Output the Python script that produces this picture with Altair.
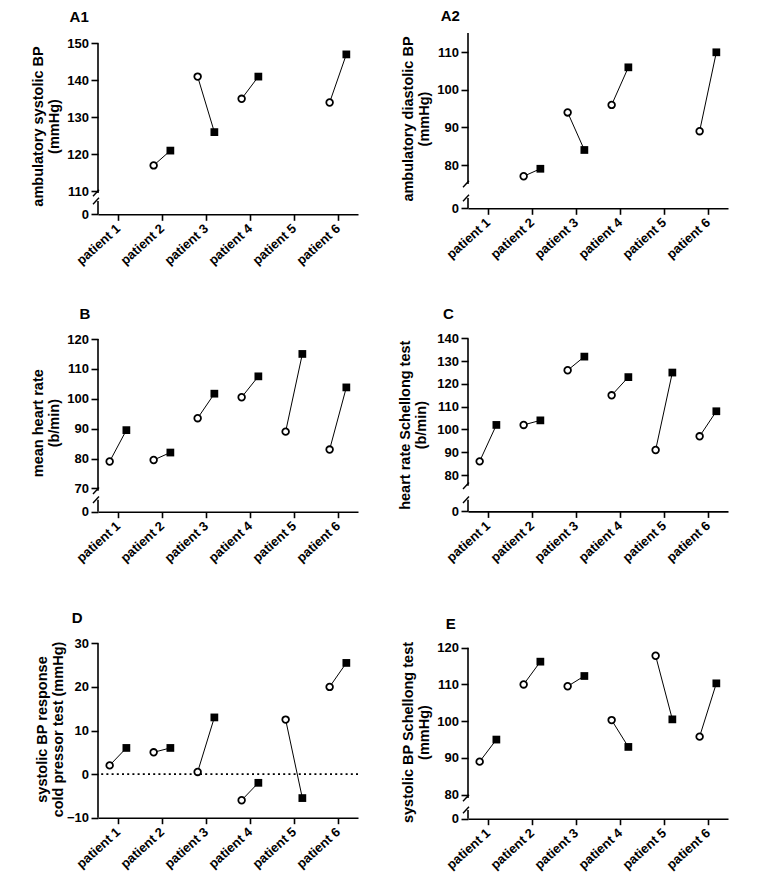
import altair as alt
import pandas as pd

FONT = "Liberation Sans"

patients = ["patient 1", "patient 2", "patient 3", "patient 4", "patient 5", "patient 6"]

a1_first = [None, 117, 141, 135, None, 134]
a1_second = [None, 121, 126, 141, None, 147]
a2_first = [None, 77, 94, 96, None, 89]
a2_second = [None, 79, 84, 106, None, 110]
b_first = [79, 79.5, 93.5, 100.5, 89, 83]
b_second = [89.5, 82, 101.7, 107.5, 115, 103.8]
c_first = [86, 102, 126, 115, 91, 97]
c_second = [102, 104, 132, 123, 125, 108]
d_first = [2, 5, 0.5, -6, 12.5, 20]
d_second = [6, 6, 13, -2, -5.5, 25.5]
e_first = [89, 110, 109.5, 100.3, 117.8, 95.8]
e_second = [95, 116.2, 112.3, 93, 100.5, 110.3]

a1_ticks = [110, 120, 130, 140, 150]
a2_ticks = [80, 90, 100, 110]
b_ticks = [70, 80, 90, 100, 110, 120]
c_ticks = [80, 90, 100, 110, 120, 130, 140]
d_ticks = [-10, 0, 10, 20, 30]
e_ticks = [80, 90, 100, 110, 120]

WIDTH = 260
XDOMAIN = [0.545, 6.455]
TITLE_SHIFT = 14.5
LINE_H = 16


def panel(label, ytitle, first, second, ticks, ppu, top_off, height,
          upper_end=None, lower_start=None, axis_to_top=False, zero_line=False,
          title_x=-35, title_y=90, lab_dx=-28, lab_dy=-10):
    top = ticks[-1]
    dhi = top + top_off / ppu
    dlo = top - (height - top_off) / ppu

    def val(px):
        return top - (px - top_off) / ppu

    rows = []
    for i, p in enumerate(patients):
        for phase, arr in (("first", first), ("second", second)):
            if arr[i] is not None:
                rows.append({"patient": p, "idx": i + 1, "phase": phase, "value": arr[i]})
    df = pd.DataFrame(rows)

    yscale = alt.Scale(domain=[dlo, dhi], nice=False, zero=False)
    xscale = alt.Scale(domain=XDOMAIN, nice=False, zero=False)

    broken = upper_end is not None
    if broken:
        yvals = [dlo] + ticks
        lab_expr = f"datum.value < {ticks[0] - 2} ? '0' : datum.label"
    else:
        yvals = ticks
        lab_expr = "datum.label"

    xaxis = alt.Axis(
        values=[1, 2, 3, 4, 5, 6], labelExpr="'patient ' + datum.value",
        labelAngle=-42, labelAlign="right", labelBaseline="middle",
        labelOverlap=False, labelFlush=False, labelBound=False,
        labelFontSize=13, tickSize=6, labelPadding=6, title=None, grid=False,
        domainWidth=1.6, tickWidth=1.6)
    yaxis = alt.Axis(
        values=yvals, labelExpr=lab_expr, domain=False, tickSize=7,
        labelOverlap=False, labelFlush=False, labelBound=False,
        labelFontSize=13, labelPadding=2.5, title=ytitle,
        titleX=title_x - LINE_H, titleY=title_y,
        titleAngle=270, titleBaseline="bottom", titleAlign="center",
        titleLineHeight=LINE_H, grid=False, tickWidth=1.6)

    xenc = alt.X("xpos:Q", scale=xscale, axis=xaxis)
    yenc = alt.Y("value:Q", scale=yscale, axis=yaxis)

    def ydat(v):
        return alt.YDatum(v, type="quantitative", scale=yscale, axis=yaxis)

    base = alt.Chart(df).transform_calculate(
        xpos="datum.idx + (datum.phase == 'first' ? -0.19 : 0.19)")

    lines = base.mark_line(color="black", strokeWidth=1).encode(
        x=xenc, y=yenc, detail="patient:N", order="xpos:Q")
    circles = base.transform_filter("datum.phase == 'first'").mark_point(
        shape="circle", filled=True, fill="white", stroke="black",
        strokeWidth=1.8, size=44, opacity=1).encode(x=xenc, y=yenc)
    squares = base.transform_filter("datum.phase == 'second'").mark_point(
        shape="square", filled=True, color="black", size=60, opacity=1).encode(
        x=xenc, y=yenc)

    one = pd.DataFrame({"k": [0]})
    layers = [lines]

    def seg(lo, hi):
        return alt.Chart(one).mark_rule(color="black", strokeWidth=1.6).encode(
            x=alt.value(0), y=ydat(lo), y2=alt.datum(hi))

    def slash(v):
        d = 3.2 / ppu
        return alt.Chart(one).mark_rule(color="black", strokeWidth=1.4).encode(
            x=alt.value(-5), x2=alt.value(1), y=ydat(v - d), y2=alt.datum(v + d))

    if broken:
        up_top = dhi if axis_to_top else top
        up_lo = val(upper_end)
        lo_hi = val(lower_start)
        layers += [seg(up_lo, up_top), seg(dlo, lo_hi), slash(up_lo), slash(lo_hi)]
    else:
        layers += [seg(ticks[0], top)]

    if zero_line:
        layers.append(alt.Chart(one).mark_rule(
            color="black", strokeWidth=1.8, strokeDash=[2, 3.2]).encode(y=ydat(0)))

    layers += [circles, squares]

    return alt.layer(*layers).properties(
        width=WIDTH, height=height,
        title=alt.TitleParams(text=label, anchor="start", frame="group",
                              dx=lab_dx, dy=lab_dy + TITLE_SHIFT, offset=0, fontSize=15,
                              font=FONT, fontWeight="bold", color="black",
                              baseline="alphabetic"))


pA1 = panel("A1", ["ambulatory systolic BP", "(mmHg)"], a1_first, a1_second, a1_ticks,
            3.7, 10.3, 181.3, upper_end=160, lower_start=168,
            title_x=-37, title_y=93, lab_dx=-28.4, lab_dy=-10.3)
pA2 = panel("A2", ["ambulatory diastolic BP", "(mmHg)"], a2_first, a2_second, a2_ticks,
            3.757, 19.3, 175.3, upper_end=151, lower_start=165, axis_to_top=True,
            title_x=-37, title_y=85.5, lab_dx=-27.3, lab_dy=-10.3)
pB = panel("B", ["mean heart rate", "(b/min)"], b_first, b_second, b_ticks,
           2.988, 24, 196.7, upper_end=175.7, lower_start=184.7,
           title_x=-37, title_y=107.7, lab_dx=-18.4, lab_dy=4)
pC = panel("C", ["heart rate Schellong test", "(b/min)"], c_first, c_second, c_ticks,
           2.277, 23.4, 196.4, upper_end=170.7, lower_start=184.7,
           title_x=-40, title_y=109.7, lab_dx=-25, lab_dy=4)
pD = panel("D", ["systolic BP response", "cold pressor test (mmHg)"], d_first, d_second, d_ticks,
           4.36, 31.3, 205.7, zero_line=True,
           title_x=-33, title_y=117, lab_dx=-26.3, lab_dy=11.3)
pE = panel("E", ["systolic BP Schellong test", "(mmHg)"], e_first, e_second, e_ticks,
           3.675, 35.7, 206.7, upper_end=186, lower_start=198,
           title_x=-37, title_y=120, lab_dx=-22.3, lab_dy=17.3)

chart = alt.concat(pA1, pA2, pB, pC, pD, pE, columns=2,
                   spacing={"row": 100, "column": 110},
                   bounds="flush", align="each").properties(
    padding={"left": 21, "top": 0, "right": 5, "bottom": 5},
    background="white",
).configure_axis(
    labelFont=FONT, titleFont=FONT, labelFontWeight="bold", titleFontWeight="bold",
    labelFontSize=13, titleFontSize=14.5, labelColor="black", titleColor="black",
    tickColor="black", domainColor="black", grid=False, labelOverlap=False,
).configure_view(stroke="transparent")

chart.save("out.html", embed_options={"renderer": "svg", "actions": False})
